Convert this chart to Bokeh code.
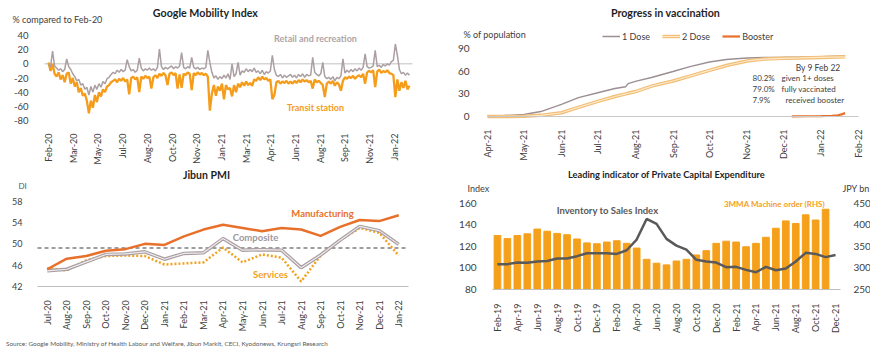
from math import pi
import pandas as pd
from bokeh.plotting import figure
from bokeh.models import Range1d, LinearAxis, FixedTicker, Label, Legend, LegendItem, Div
from bokeh.layouts import column, row
from bokeh.embed import file_html
from bokeh.resources import INLINE

FONT = "Lato"
TXT = "#404040"

# ---------------- Google Mobility (sampled every 4 days from 15 Feb 2020) ----------------
mob_sample_days = 4
mob_tick_labels = ["Feb-20", "Mar-20", "May-20", "Jul-20", "Aug-20", "Oct-20", "Nov-20", "Jan-21",
                   "Mar-21", "Apr-21", "Jun-21", "Aug-21", "Sep-21", "Nov-21", "Jan-22"]
mob_tick_step_days = 49
retail = [-1, -4, 18, -3, -6, -9, -7, -11, -8, 7,
          -4, -8, -14, -18, -24, -22, -30, -28, -36, -33,
          -44, -32, -40, -30, -36, -28, -33, -25, -28, -21,
          -19, -15, -12, -14, -9, -12, -8, -11, -9, 6,
          -4, -10, -8, -12, -9, 8, -6, -10, -7, -9,
          -6, -9, -7, -10, -5, 21, -4, -8, -5, -7,
          -5, -3, -7, -4, -6, -3, 16, -5, -7, -4,
          -6, 9, -5, -7, -5, -8, -6, -7, -5, 19,
          2, -12, -20, -17, -22, -18, -21, -16, -20, -14,
          -22, 0, -18, -14, 2, -16, -10, -12, -7, -11,
          -8, -11, -6, -12, -10, -14, -9, -15, -11, -13,
          -10, 12, -8, -16, -18, -15, -20, -16, -19, -17,
          -15, -19, -16, -20, -15, -18, -14, -19, -15, -17,
          -16, 9, -12, -15, -17, -14, 2, -18, -21, -19,
          -22, -18, -24, -19, -21, -17, 7, -13, -9, -12,
          -8, -11, -7, -10, -6, -9, -5, 14, -4, -6,
          -5, -3, 19, -4, -2, -5, -1, -3, 0, -2,
          3, 5, 28, 12, -8, -14, -12, -16, -13, -16]
transit = [2, -10, 0, -14, -18, -12, -22, -16, -26, -14,
           -12, -28, -20, -32, -26, -40, -34, -45, -42, -52,
           -70, -52, -62, -44, -54, -40, -46, -36, -40, -32,
           -30, -26, -24, -22, -26, -21, -24, -20, -25, -22,
           -43, -20, -18, -22, -19, -40, -18, -21, -17, -20,
           -18, -35, -19, -16, -20, -14, -17, -13, -16, -30,
           -14, -12, -16, -13, -35, -15, -34, -14, -16, -12,
           -14, -37, -13, -16, -12, -15, -13, -16, -14, -18,
           -66, -42, -30, -45, -32, -38, -28, -50, -30, -36,
           -34, -46, -30, -40, -28, -33, -26, -31, -25, -30,
           -27, -31, -22, -24, -19, -23, -18, -22, -20, -24,
           -22, -50, -44, -26, -24, -28, -25, -27, -24, -28,
           -25, -28, -24, -27, -23, -26, -22, -25, -23, -26,
           -24, -35, -22, -26, -24, -27, -30, -47, -28, -25,
           -28, -24, -31, -26, -29, -38, -24, -19, -21, -18,
           -20, -17, -21, -18, -16, -19, -14, -28, -12, -10,
           -12, -9, -33, -11, -8, -13, -10, -12, -9, -13,
           -14, -16, -47, -22, -38, -26, -34, -24, -36, -31]
mob_y_ticks = [-80, -60, -40, -20, 0, 20, 40]

# ---------------- Vaccination ----------------
vax_tick_dates = ["2021-04-01", "2021-05-01", "2021-06-01", "2021-07-01", "2021-08-01", "2021-09-01",
                  "2021-10-01", "2021-11-01", "2021-12-01", "2022-01-01", "2022-02-01"]
vax_tick_labels = ["Apr-21", "May-21", "Jun-21", "Jul-21", "Aug-21", "Sep-21", "Oct-21", "Nov-21",
                   "Dec-21", "Jan-22", "Feb-22"]
vax_dates = ["2021-04-01", "2021-04-15", "2021-05-01", "2021-05-15", "2021-06-01", "2021-06-15",
             "2021-07-01", "2021-07-15", "2021-07-24", "2021-07-26", "2021-08-01", "2021-08-15",
             "2021-09-01", "2021-09-15", "2021-10-01", "2021-10-15", "2021-11-01", "2021-11-15",
             "2021-12-01", "2021-12-15", "2022-01-01", "2022-01-21"]
dose1 = [0.5, 1.2, 2.7, 6.5, 16, 25, 31.5, 37, 39.5, 43.5, 46.5, 52, 59.5, 66, 72, 75.5, 77.5, 78,
         78.3, 78.6, 79.2, 80.2]
dose2 = [0.0, 0.1, 0.3, 1.5, 5, 12, 20, 26.5, 30, 30.8, 33, 40.5, 47, 53.5, 61, 67.5, 73.5, 76,
         77, 77.5, 78.2, 79.0]
booster_dates = ["2021-12-08", "2021-12-20", "2022-01-01", "2022-01-10", "2022-01-15", "2022-01-18",
                 "2022-01-21"]
booster = [0.1, 0.3, 0.6, 1.0, 1.6, 2.8, 4.5]
vax_y_ticks = [0, 30, 60, 90]

# ---------------- Jibun PMI ----------------
pmi_months = ["Jul-20", "Aug-20", "Sep-20", "Oct-20", "Nov-20", "Dec-20", "Jan-21", "Feb-21", "Mar-21",
              "Apr-21", "May-21", "Jun-21", "Jul-21", "Aug-21", "Sep-21", "Oct-21", "Nov-21", "Dec-21",
              "Jan-22"]
manufacturing = [45.2, 47.2, 47.7, 48.7, 49.0, 50.0, 49.8, 51.4, 52.7, 53.6, 53.0, 52.4, 53.0, 52.7,
                 51.5, 53.2, 54.5, 54.3, 55.4]
composite = [44.9, 45.2, 46.6, 48.0, 48.1, 48.5, 47.1, 48.2, 48.3, 51.0, 48.8, 48.9, 48.8, 45.5,
             47.9, 50.7, 53.3, 52.5, 49.9]
services = [45.4, 45.0, 46.9, 47.7, 47.8, 47.7, 46.1, 46.3, 46.5, 49.3, 46.5, 48.0, 47.4, 42.9,
            47.8, 50.7, 53.0, 52.1, 47.8]
pmi_ref_line = 49.2
pmi_y_ticks = [42, 46, 50, 54, 58]

# ---------------- Leading indicator of capex ----------------
capex_months = ["Feb-19", "Mar-19", "Apr-19", "May-19", "Jun-19", "Jul-19", "Aug-19", "Sep-19", "Oct-19",
                "Nov-19", "Dec-19", "Jan-20", "Feb-20", "Mar-20", "Apr-20", "May-20", "Jun-20", "Jul-20",
                "Aug-20", "Sep-20", "Oct-20", "Nov-20", "Dec-20", "Jan-21", "Feb-21", "Mar-21", "Apr-21",
                "May-21", "Jun-21", "Jul-21", "Aug-21", "Sep-21", "Oct-21", "Nov-21", "Dec-21"]
machine_orders = [375, 368, 375, 379, 390, 385, 380, 377, 367, 358, 356, 360, 363, 357, 346, 320, 311,
                  307, 316, 320, 330, 340, 357, 362, 360, 349, 357, 371, 392, 409, 403, 423, 411, 436]
inventory_sales = [103.5, 103.5, 105, 104.7, 106, 106.5, 108.7, 108.7, 110.9, 113.6, 113.6, 113.6, 113,
                   116.4, 126.3, 145.4, 140.8, 126.9, 120.7, 117, 107.5, 106, 105, 100.7, 101, 98.2, 96,
                   101, 97.9, 99.4, 106, 114, 113, 110, 112]
capex_left_ticks = [80, 100, 120, 140, 160]
capex_right_ticks = [250, 300, 350, 400, 450]

source_text = ("Source: Google Mobility, Ministry of Health Labour and Welfare, Jibun Markit, CECI, "
               "Kyodonews, Krungsri Research")


# ---------------- helpers ----------------
def span_range(v_lo, v_hi, p_lo, p_hi, total):
    """Range whose v_lo..v_hi falls on pixels p_lo..p_hi of a frame 'total' px long."""
    s = (v_hi - v_lo) / (p_hi - p_lo)
    return Range1d(v_lo - p_lo * s, v_hi + (total - p_hi) * s)


def yrange(v_bot, v_top, py_bot, py_top, H):
    return span_range(v_bot, v_top, H - py_bot, H - py_top, H)


def base_fig(W, H, xr, yr):
    p = figure(width=W, height=H, x_range=xr, y_range=yr, output_backend="svg",
               toolbar_location=None, min_border=0, min_border_left=0, min_border_right=0,
               min_border_top=0, min_border_bottom=0, title=None)
    p.outline_line_color = None
    p.xgrid.visible = False
    p.ygrid.visible = False
    p.background_fill_color = "white"
    p.border_fill_color = "white"
    return p


def style_axis(ax, size, standoff, loc, bounds=None, line_color=None):
    ax.fixed_location = loc
    if bounds is not None:
        ax.bounds = bounds
    ax.major_tick_line_color = None
    ax.minor_tick_line_color = None
    ax.axis_line_color = line_color
    ax.major_label_text_font = FONT
    ax.major_label_text_color = TXT
    ax.major_label_text_font_size = size
    ax.major_label_standoff = standoff


def lab(p, x, y_top, text, size="9px", color=TXT, bold=False, align="left"):
    p.add_layout(Label(x=x, y=p.height - y_top, x_units="screen", y_units="screen", text=text,
                       text_font=FONT, text_font_size=size, text_color=color,
                       text_font_style="bold" if bold else "normal",
                       text_align=align, text_baseline="middle"))


def title(p, x, y_top, text, size="10.5px"):
    lab(p, x, y_top, text, size=size, color="#1f1f1f", bold=True, align="center")


# ======== Panel 1: Google Mobility ========
W, H = 435, 165
mob_x = [mob_sample_days * i for i in range(len(retail))]
mob_ticks = [mob_tick_step_days * k for k in range(len(mob_tick_labels))]
mx_lo, mx_hi = -8, 722
p1 = base_fig(W, H, span_range(mx_lo, mx_hi, 44, 412, W), yrange(-80, 40, 120, 35, H))
p1.segment(x0=[mx_lo], y0=[0], x1=[mx_hi], y1=[0], line_color="#bfbfbf", line_width=1)
p1.line(mob_x, transit, line_color="#f59c1b", line_width=2.3)
p1.line(mob_x, retail, line_color="#ab9fa1", line_width=1.5)
style_axis(p1.xaxis[0], "9px", 7, -80, (mx_lo, mx_hi))
p1.xaxis.ticker = FixedTicker(ticks=mob_ticks)
p1.xaxis.major_label_overrides = dict(zip(mob_ticks, mob_tick_labels))
p1.xaxis.major_label_orientation = pi / 2
style_axis(p1.yaxis[0], "9.5px", 10, mx_lo, (-80, 40))
p1.yaxis.ticker = FixedTicker(ticks=mob_y_ticks)
p1.yaxis.major_label_overrides = {v: str(v) for v in mob_y_ticks}
title(p1, 205, 12, "Google Mobility Index", "10.7px")
lab(p1, 12, 19, "% compared to Feb-20", size="9px")
lab(p1, 315, 38, "Retail and recreation", size="9px", color="#b0a4a6", bold=True, align="center")
lab(p1, 315, 107, "Transit station", size="9px", color="#f59c1b", bold=True, align="center")

# ======== Panel 2: Vaccination ========
v0 = pd.Timestamp(vax_tick_dates[0])
def dday(lst):
    return [(pd.Timestamp(d) - v0).days for d in lst]
vax_ticks = dday(vax_tick_dates)
p2 = base_fig(W, H, span_range(0, vax_ticks[-1], 52, 423, W), yrange(0, 90, 116, 48, H))
r_d1 = p2.line(dday(vax_dates), dose1, line_color="#9c8f91", line_width=1.5)
r_d2a = p2.line(dday(vax_dates), dose2, line_color="#f2bd74", line_width=3.5)
r_d2b = p2.line(dday(vax_dates), dose2, line_color="#fde9c9", line_width=1.2)
r_b = p2.line(dday(booster_dates), booster, line_color="#e8702a", line_width=2.2)
style_axis(p2.xaxis[0], "9px", 7, 0, (0, vax_ticks[-1]), "#c8c8c8")
p2.xaxis.ticker = FixedTicker(ticks=vax_ticks)
p2.xaxis.major_label_overrides = dict(zip(vax_ticks, vax_tick_labels))
p2.xaxis.major_label_orientation = pi / 2
style_axis(p2.yaxis[0], "10px", 12, 0, (0, 90))
p2.yaxis.ticker = FixedTicker(ticks=vax_y_ticks)
legend = Legend(items=[LegendItem(label="1 Dose", renderers=[r_d1]),
                       LegendItem(label="2 Dose", renderers=[r_d2a, r_d2b]),
                       LegendItem(label="Booster", renderers=[r_b])],
                location=(165, 121), orientation="horizontal", padding=2, margin=0, spacing=12,
                glyph_width=18, glyph_height=12, label_height=12, label_standoff=2,
                label_text_font=FONT, label_text_font_size="9px", label_text_color=TXT,
                background_fill_alpha=0, border_line_alpha=0)
p2.add_layout(legend)
title(p2, 230, 12, "Progress in vaccination", "10.7px")
lab(p2, 28, 34, "% of population", size="9px")
lab(p2, 405, 67, "By 9 Feb 22", size="8.5px", align="right")
lab(p2, 317, 77.5, "80.2%", size="8px")
lab(p2, 346, 77.5, "given 1+ doses", size="8px")
lab(p2, 317, 88.5, "79.0%", size="8px")
lab(p2, 346, 88.5, "fully vaccinated", size="8px")
lab(p2, 317, 99.5, "7.9%", size="8px")
lab(p2, 350, 99.5, "received booster", size="8px")

# ======== Panel 3: Jibun PMI ========
H2 = 172
pmi_x = list(range(len(pmi_months)))
px_lo, px_hi = -0.5, len(pmi_months) - 0.5
p3 = base_fig(W, H2, span_range(px_lo, px_hi, 37, 408, W), yrange(42, 58, 120.7, 36, H2))
p3.segment(x0=[px_lo], y0=[pmi_ref_line], x1=[px_hi], y1=[pmi_ref_line], line_color="#7f7f7f",
           line_width=1.5, line_dash="4 3")
p3.line(pmi_x, services, line_color="#f2a11f", line_width=2.5, line_dash="2 2")
p3.line(pmi_x, composite, line_color="#a99da1", line_width=3.5)
p3.line(pmi_x, composite, line_color="#efebec", line_width=1.2)
p3.line(pmi_x, manufacturing, line_color="#e8702a", line_width=2.5)
style_axis(p3.xaxis[0], "9px", 8, 42, (px_lo, px_hi), "#bfbfbf")
p3.xaxis.ticker = FixedTicker(ticks=pmi_x)
p3.xaxis.major_label_overrides = dict(zip(pmi_x, pmi_months))
p3.xaxis.major_label_orientation = pi / 2
style_axis(p3.yaxis[0], "9px", 9, px_lo, (42, 58))
p3.yaxis.ticker = FixedTicker(ticks=pmi_y_ticks)
title(p3, 206, 9, "Jibun PMI", "10.5px")
lab(p3, 18, 20, "DI", size="8px", color="#595959")
lab(p3, 322, 48, "Manufacturing", size="9.5px", color="#e8702a", bold=True, align="center")
lab(p3, 255, 72, "Composite", size="9.5px", color="#a0989c", bold=True, align="center")
lab(p3, 270, 109, "Services", size="9.5px", color="#f2a11f", bold=True, align="center")

# ======== Panel 4: Leading indicator of capex ========
cx = list(range(len(capex_months)))
cx_lo, cx_hi = -0.5, len(capex_months) - 0.5
p4 = base_fig(W, H2, span_range(cx_lo, cx_hi, 57, 405, W), yrange(80, 160, 124, 37.7, H2))
p4.extra_y_ranges = {"rhs": yrange(250, 450, 124, 37.7, H2)}
p4.vbar(x=cx[:len(machine_orders)], top=machine_orders, bottom=250, width=0.67, color="#f5a01a",
        y_range_name="rhs")
p4.line(cx, inventory_sales, line_color="#595959", line_width=2.5)
rax = LinearAxis(y_range_name="rhs")
p4.add_layout(rax, "right")
style_axis(p4.xaxis[0], "9px", 8, 80, (cx_lo, cx_hi), "#bfbfbf")
even = cx[::2]
p4.xaxis.ticker = FixedTicker(ticks=even)
p4.xaxis.major_label_overrides = {i: capex_months[i] for i in even}
p4.xaxis.major_label_orientation = pi / 2
style_axis(p4.yaxis[0], "10px", 10, cx_lo, (80, 160))
p4.yaxis[0].ticker = FixedTicker(ticks=capex_left_ticks)
style_axis(rax, "10px", 7, cx_hi, (250, 450))
rax.ticker = FixedTicker(ticks=capex_right_ticks)
title(p4, 231, 9, "Leading indicator of Private Capital Expenditure", "9.3px")
lab(p4, 32, 23, "Index", size="9px")
lab(p4, 407, 23, "JPY bn", size="9px")
lab(p4, 172, 45, "Inventory to Sales Index", size="9.5px", color="#595959", bold=True, align="center")
lab(p4, 339, 38, "3MMA Machine order (RHS)", size="8px", color="#f5a01a", bold=True, align="center")

src = Div(text=source_text, width=870, height=17, margin=(0, 0, 0, 0),
          styles={"font-family": FONT, "font-size": "6.4px", "color": "#595959",
                  "padding-left": "6px", "line-height": "14px"})

layout = column(row(p1, p2), row(p3, p4), src)
open("out.html", "w").write(file_html(layout, INLINE))
